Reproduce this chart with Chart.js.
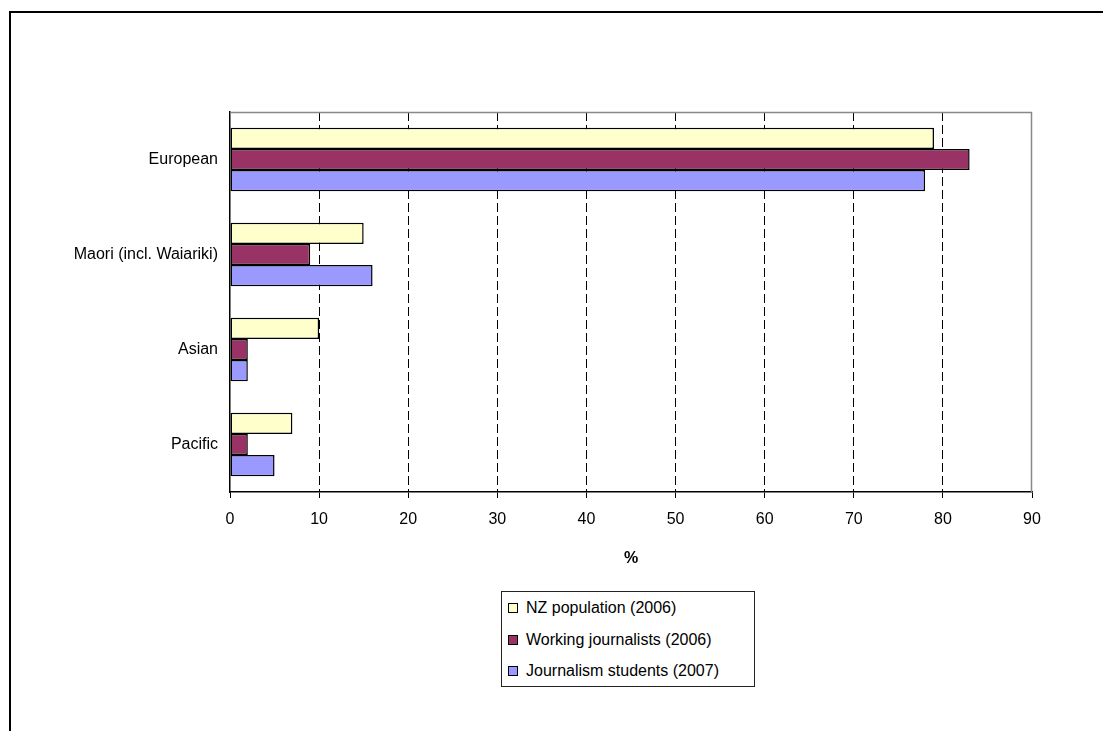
<!DOCTYPE html>
<html lang="en">
<head>
    <meta charset="UTF-8">
    <title>Ethnicity comparison</title>
    <script src="https://cdn.jsdelivr.net/npm/chart.js"></script>
    <style>
        body {
            margin: 0;
            padding: 0;
            background: #fff;
            font-family: 'Liberation Sans', Arial, sans-serif;
        }
        .wrap {
            position: relative;
            width: 1103px;
            height: 731px;
            overflow: hidden;
        }
        .frame {
            position: absolute;
            left: 9px;
            top: 11px;
            width: 1200px;
            height: 800px;
            border-top: 2px solid #000;
            border-left: 2px solid #000;
            pointer-events: none;
        }
        canvas {
            position: absolute;
            left: 0;
            top: 0;
        }
        .legend {
            position: absolute;
            left: 501px;
            top: 591px;
            width: 252px;
            height: 94px;
            border: 1px solid #222;
            background: #fff;
        }
        .legend .item {
            position: absolute;
            left: 6px;
            height: 20px;
            line-height: 20px;
            font-size: 16px;
            color: #000;
            white-space: nowrap;
        }
        .legend .box {
            display: inline-block;
            width: 8px;
            height: 8px;
            border: 1px solid #000;
            margin-right: 8px;
            vertical-align: 0px;
        }
    </style>
</head>
<body>
    <div class="wrap">
        <canvas id="ethnicChart" width="1103" height="731"></canvas>
        <div class="frame"></div>
        <div class="legend" id="legend"></div>
    </div>

    <script>
        var categories = ['European', 'Maori (incl. Waiariki)', 'Asian', 'Pacific'];
        var seriesNames = ['NZ population (2006)', 'Working journalists (2006)', 'Journalism students (2007)'];
        var nzPopulation = [79, 15, 10, 7];
        var workingJournalists = [83, 9, 2, 2];
        var journalismStudents = [78, 16, 2, 5];
        var xTicks = [0, 10, 20, 30, 40, 50, 60, 70, 80, 90];

        var seriesColors = ['#FFFFCC', '#993366', '#9999FF'];
        var seriesValues = [nzPopulation, workingJournalists, journalismStudents];

        Chart.defaults.font.family = "'Liberation Sans', Arial, sans-serif";
        Chart.defaults.font.size = 16;
        Chart.defaults.color = '#000';

        // gray outline on the top and right of the plot area
        var plotBorder = {
            id: 'plotBorder',
            beforeDatasetsDraw: function(chart) {
                var a = chart.chartArea, c = chart.ctx;
                c.save();
                c.strokeStyle = '#888';
                c.lineWidth = 1.5;
                c.beginPath();
                c.moveTo(a.left, a.top + 0.5);
                c.lineTo(a.right - 0.5, a.top + 0.5);
                c.lineTo(a.right - 0.5, a.bottom);
                c.stroke();
                c.restore();
            }
        };

        var datasets = seriesNames.map(function(name, i) {
            return {
                label: name,
                data: seriesValues[i],
                backgroundColor: seriesColors[i],
                borderColor: '#000',
                borderWidth: 1.5,
                borderSkipped: false,
                barPercentage: 1,
                categoryPercentage: 0.667
            };
        });

        new Chart(document.getElementById('ethnicChart').getContext('2d'), {
            type: 'bar',
            data: {
                labels: categories,
                datasets: datasets
            },
            options: {
                indexAxis: 'y',
                responsive: false,
                animation: false,
                layout: {
                    padding: { left: 0, top: 112, right: 71, bottom: 162.6 }
                },
                plugins: {
                    legend: { display: false },
                    tooltip: { enabled: false }
                },
                scales: {
                    x: {
                        min: 0,
                        max: 90,
                        afterBuildTicks: function(scale) {
                            scale.ticks = xTicks.map(function(v) { return { value: v }; });
                        },
                        grid: {
                            color: function(ctx) {
                                return (ctx.tick && (ctx.tick.value === 0 || ctx.tick.value === 90)) ? 'rgba(0,0,0,0)' : '#000';
                            },
                            tickColor: '#000',
                            tickBorderDash: [],
                            tickLength: 6,
                            lineWidth: 1
                        },
                        border: { display: true, color: '#000', width: 1.5, dash: [9, 4] },
                        ticks: { padding: 12, maxRotation: 0 },
                        title: {
                            display: true,
                            text: '%',
                            font: { weight: 'bold', size: 16 },
                            padding: { top: 8, bottom: 0 }
                        }
                    },
                    y: {
                        afterFit: function(scale) { scale.width = 230; },
                        grid: { display: false, drawTicks: false },
                        border: { display: true, color: '#000', width: 1.5 },
                        ticks: { padding: 12 }
                    }
                }
            },
            plugins: [plotBorder]
        });

        // legend box built from the series names
        var legend = document.getElementById('legend');
        seriesNames.forEach(function(name, i) {
            var item = document.createElement('div');
            item.className = 'item';
            item.style.top = (6 + i * 31.5) + 'px';
            item.innerHTML = '<span class="box" style="background:' + seriesColors[i] + '"></span>' + name;
            legend.appendChild(item);
        });
    </script>
</body>
</html>
